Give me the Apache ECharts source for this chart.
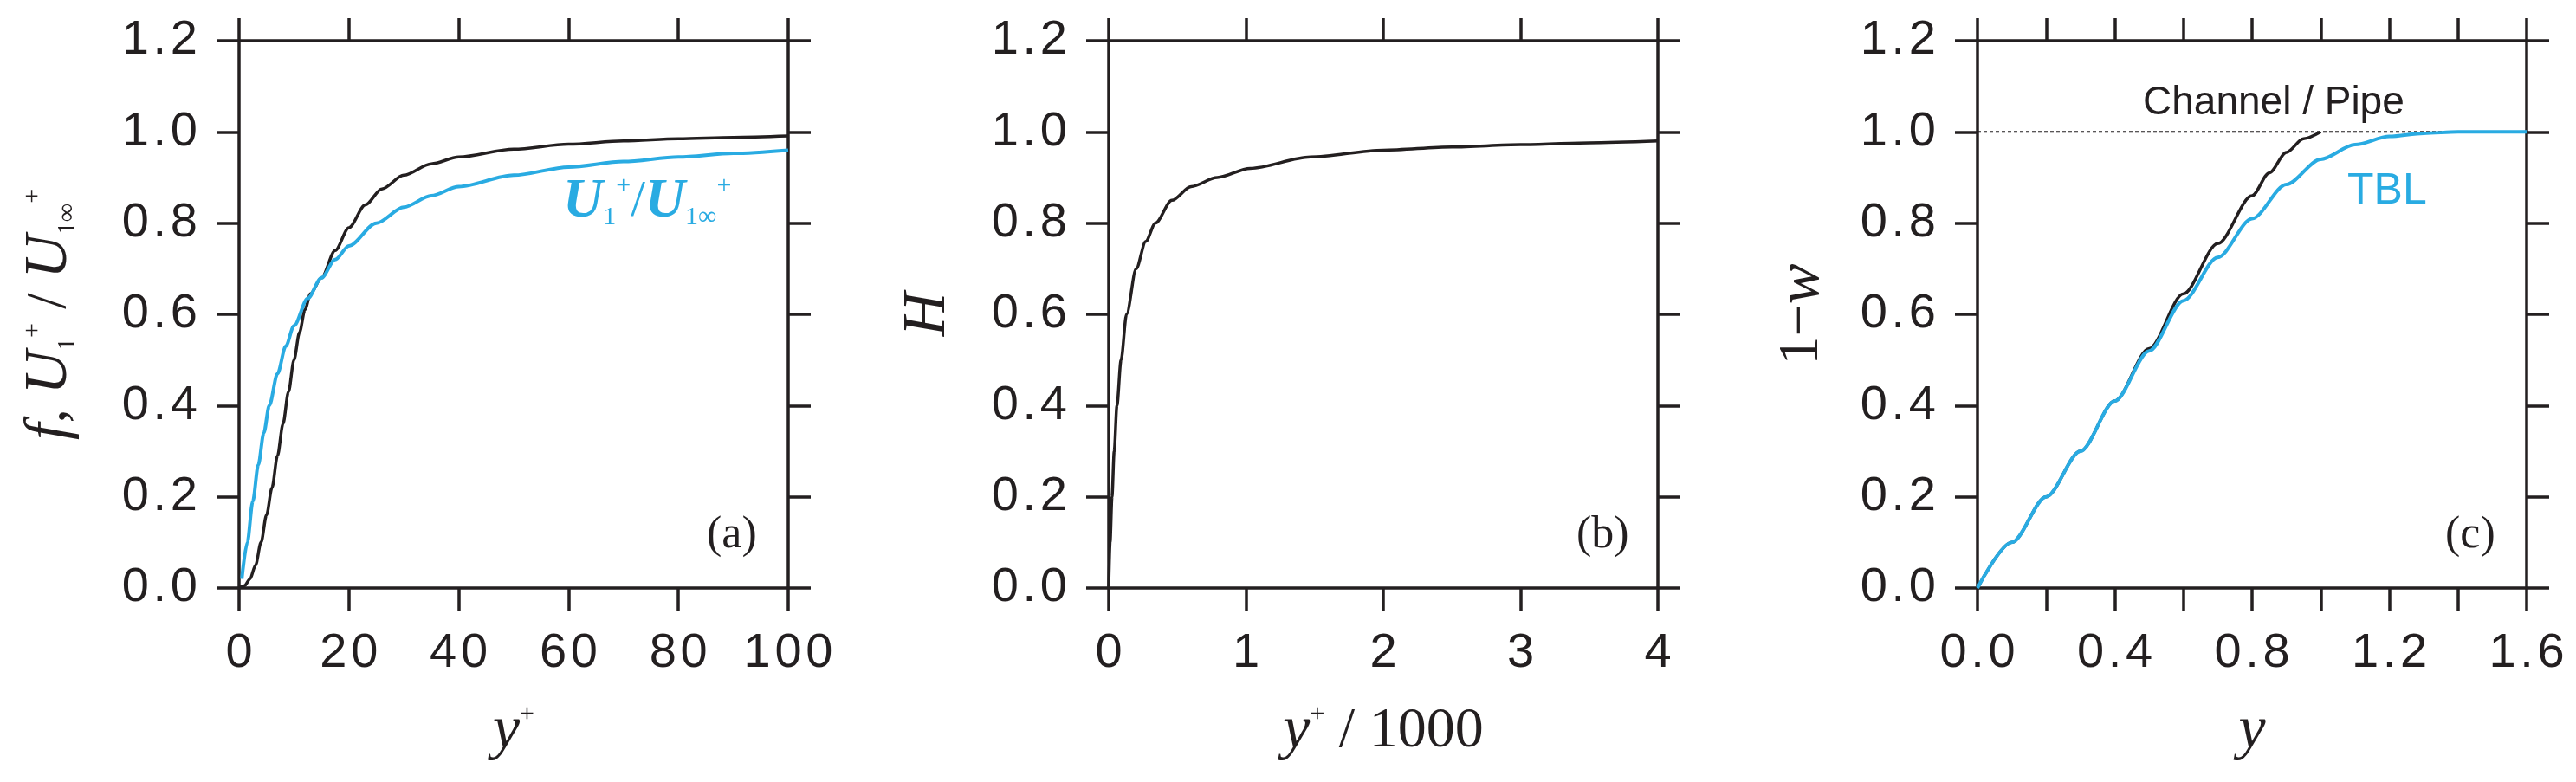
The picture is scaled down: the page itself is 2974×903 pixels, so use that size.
<!DOCTYPE html>
<html><head><meta charset="utf-8">
<script src="https://cdn.jsdelivr.net/npm/echarts@6/dist/echarts.min.js"></script>
<style>html,body{margin:0;padding:0;background:#fff}#c{width:2974px;height:903px}</style>
</head><body><div id="c"></div>
<script>
// Panel (a): f and U1+/U1inf+ vs y+
const fA = [[0,0],[1,0.005],[2,0.02],[3,0.05],[4,0.1],[5,0.16],[6,0.22],[7,0.29],[8,0.36],[9,0.43],[10,0.5],[11,0.56],[12,0.61],[13,0.645],[15,0.68],[17.5,0.74],[20,0.79],[23,0.84],[26,0.875],[30,0.905],[35,0.93],[40,0.945],[50,0.962],[60,0.973],[70,0.98],[80,0.985],[90,0.988],[100,0.991]];
const uA = [[0.5,0.02],[1.5,0.1],[2.5,0.19],[3.5,0.27],[4.5,0.34],[5.5,0.4],[7,0.47],[8.5,0.53],[10,0.575],[12.5,0.635],[15,0.68],[17.5,0.72],[20,0.75],[25,0.8],[30,0.835],[35,0.86],[40,0.88],[50,0.905],[60,0.923],[70,0.935],[80,0.945],[90,0.953],[100,0.96]];
// Panel (b): H vs y+/1000
const hB = [[0,0],[0.01,0.1],[0.024,0.2],[0.04,0.3],[0.06,0.4],[0.09,0.5],[0.13,0.6],[0.2,0.7],[0.27,0.76],[0.34,0.8],[0.46,0.85],[0.6,0.88],[0.79,0.9],[1.03,0.92],[1.47,0.945],[2.0,0.96],[2.5,0.967],[3.0,0.972],[3.5,0.976],[4.0,0.98]];
// Panel (c): 1-w vs y
const chC = [[0,0],[0.1,0.1],[0.2,0.2],[0.3,0.3],[0.4,0.41],[0.5,0.525],[0.6,0.645],[0.7,0.755],[0.8,0.86],[0.85,0.91],[0.9,0.955],[0.95,0.985],[1.0,1.0]];
const tblC = [[0,0],[0.1,0.1],[0.2,0.2],[0.3,0.3],[0.4,0.41],[0.5,0.52],[0.6,0.63],[0.7,0.725],[0.8,0.81],[0.9,0.885],[1.0,0.94],[1.1,0.972],[1.2,0.99],[1.3,0.997],[1.4,1.0],[1.5,1.0],[1.6,1.0]];
const refC = [[0,1],[1.6,1]];

const K = '#231f20', B = '#29abe2';
const sp = s => String(s).split('').join('\u200a');
const lefts = [276, 1280, 2283];
const grid = lefts.map(l => ({left:l, width:634, top:47, height:632}));
const tick = {show:true, length:26, lineStyle:{color:K,width:3.5}};
const line = {show:true, onZero:false, lineStyle:{color:K,width:3.5}};
const lab = {fontFamily:'"Liberation Sans Narrow","Liberation Sans",sans-serif', fontSize:56, color:K};
const xr = [{min:0,max:100,interval:20,fmt:v=>sp(v)},{min:0,max:4,interval:1,fmt:v=>sp(v)},{min:0,max:1.6,interval:0.2,fmt:v=>(Math.round(v*10)%4===0)?sp(v.toFixed(1)):''}];
const xNames = ['{i|y}{s|+}', '{i|y}{s|+}{n| / 1000}', '{i|y}'];
const nameRich = {
  i:{fontFamily:'"Liberation Serif",serif',fontStyle:'italic',fontSize:70,color:K},
  n:{fontFamily:'"Liberation Serif",serif',fontSize:66,color:K},
  s:{fontFamily:'"Liberation Serif",serif',fontSize:30,color:K,verticalAlign:'top',padding:[0,0,40,0]},
  b:{fontFamily:'"Liberation Serif",serif',fontSize:30,color:K,verticalAlign:'bottom',padding:[30,0,0,0]}
};
const yNames = ['{i|f}{n|, }{i|U}{b|1}{s|+}{n| / }{i|U}{b|1∞}{s|+}', '{i|H}', '{n|1−}{i|w}'];
const yGaps = [218, 208, 202];
const xAxis = [], yAxis = [];
for (let k=0;k<3;k++){
  xAxis.push({type:'value',gridIndex:k,min:xr[k].min,max:xr[k].max,interval:xr[k].interval,position:'bottom',
    axisLine:line,axisTick:tick,splitLine:{show:false},
    axisLabel:Object.assign({margin:48,formatter:xr[k].fmt},lab),
    name:xNames[k],nameLocation:'middle',nameGap:166,nameTextStyle:{rich:nameRich,verticalAlign:'middle'}});
  xAxis.push({type:'value',gridIndex:k,min:xr[k].min,max:xr[k].max,interval:xr[k].interval,position:'top',
    axisLine:line,axisTick:tick,splitLine:{show:false},axisLabel:{show:false}});
  yAxis.push({type:'value',gridIndex:k,min:0,max:1.2,interval:0.2,position:'left',
    axisLine:line,axisTick:tick,splitLine:{show:false},
    axisLabel:Object.assign({margin:48,formatter:v=>sp(v.toFixed(1))},lab),
    name:yNames[k],nameLocation:'middle',nameRotate:90,nameGap:yGaps[k],nameTextStyle:{rich:nameRich,verticalAlign:'middle'}});
  yAxis.push({type:'value',gridIndex:k,min:0,max:1.2,interval:0.2,position:'right',
    axisLine:line,axisTick:tick,splitLine:{show:false},axisLabel:{show:false}});
}
const ser = (d,k,c,w,extra) => Object.assign({type:'line',data:d,xAxisIndex:2*k,yAxisIndex:2*k,showSymbol:false,symbol:'none',smooth:0.3,smoothMonotone:'x',lineStyle:{color:c,width:w},silent:true,z:3},extra||{});
const series = [
  ser(fA,0,K,3.5), ser(uA,0,B,4),
  ser(hB,1,K,3.5),
  ser(refC,2,K,2,{smooth:false,lineStyle:{color:K,width:2,type:[4,3]},z:2}),
  ser(chC,2,K,3.5), ser(tblC,2,B,4)
];
const serif = '"Liberation Serif",serif';
const graphic = [
  {type:'text',left:816,top:592,style:{text:'(a)',font:'52px '+serif,fill:K}},
  {type:'text',left:1820,top:592,style:{text:'(b)',font:'52px '+serif,fill:K}},
  {type:'text',left:2823,top:592,style:{text:'(c)',font:'52px '+serif,fill:K}},
  {type:'text',left:2474,top:96,style:{text:'Channel / Pipe',font:'46px "Liberation Sans Narrow","Liberation Sans",sans-serif',fill:K}},
  {type:'text',left:2710,top:196,style:{text:'TBL',font:'50px "Liberation Sans Narrow","Liberation Sans",sans-serif',fill:B}},
  {type:'text',left:650,top:200,style:{text:'{u|U}{b|1}{s|+}{n|/}{u|U}{b|1∞}{s|+}',rich:{
    u:{fontFamily:serif,fontStyle:'italic',fontWeight:'bold',fontSize:64,fill:B,color:B},
    n:{fontFamily:serif,fontSize:60,fill:B,color:B},
    s:{fontFamily:serif,fontSize:30,fill:B,color:B,verticalAlign:'top',padding:[0,0,36,0]},
    b:{fontFamily:serif,fontSize:30,fill:B,color:B,verticalAlign:'bottom',padding:[28,0,0,0]}}}}
];
const chart = echarts.init(document.getElementById('c'));
chart.setOption({animation:false,backgroundColor:'#fff',grid,xAxis,yAxis,series,graphic});
</script></body></html>
